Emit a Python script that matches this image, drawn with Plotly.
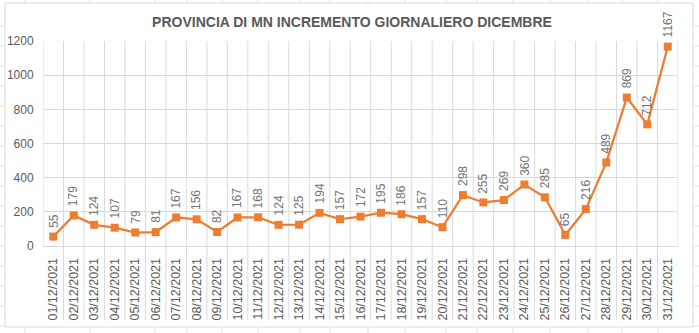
import plotly.graph_objects as go

# Daily new cases, province of Mantova, December 2021
dates = [f"{d:02d}/12/2021" for d in range(1, 32)]
values = [55, 179, 124, 107, 79, 81, 167, 156, 82, 167, 168, 124, 125, 194, 157,
          172, 195, 186, 157, 110, 298, 255, 269, 360, 285, 65, 216, 489, 869, 712, 1167]
y_ticks = [0, 200, 400, 600, 800, 1000, 1200]
title_text = "PROVINCIA DI MN INCREMENTO GIORNALIERO DICEMBRE"

W, H = 699, 333
ML, MR, MT, MB = 43, 21, 41, 87
PW, PH = W - ML - MR, H - MT - MB

ORANGE = "#ED7D31"
GRID = "#d9d9d9"
TEXT = "#595959"
SHEET = "#e3e3e3"
FONT = "Liberation Sans"


def px_x(px):
    return (px - ML) / PW


def px_y(py):
    return (H - MB - py) / PH


x_idx = list(range(len(dates)))

fig = go.Figure()
fig.add_trace(go.Scatter(
    x=x_idx, y=values, mode="lines+markers",
    line=dict(color=ORANGE, width=2.25),
    marker=dict(symbol="square", size=8, color=ORANGE),
    hoverinfo="skip", showlegend=False,
))

shapes = []
# category boundary lines; interior ones run down through the date labels
n = len(dates)
for i in range(n + 1):
    xb = i - 0.5
    y0 = 0 if i in (0, n) else px_y(320)
    shapes.append(dict(type="line", xref="x", yref="paper", x0=xb, x1=xb,
                       y0=y0, y1=1, line=dict(color=GRID, width=1), layer="below"))

# worksheet cell lines around the chart frame
for r in range(26, H, 20):
    for xa, xb in ((0, 5), (693, W)):
        shapes.append(dict(type="line", xref="paper", yref="paper",
                           x0=px_x(xa), x1=px_x(xb), y0=px_y(r), y1=px_y(r),
                           line=dict(color=SHEET, width=1), layer="below"))
for c in [25, 90, 155, 187, 222, 258, 300, 330, 368, 405, 446, 477, 513, 550, 588, 622, 658]:
    for ya, yb in ((0, 3), (327, H)):
        shapes.append(dict(type="line", xref="paper", yref="paper",
                           x0=px_x(c), x1=px_x(c), y0=px_y(ya), y1=px_y(yb),
                           line=dict(color=SHEET, width=1), layer="below"))

# chart frame
shapes.append(dict(type="rect", xref="paper", yref="paper",
                   x0=px_x(5), x1=px_x(693), y0=px_y(327), y1=px_y(3),
                   line=dict(color=GRID, width=1), fillcolor="rgba(0,0,0,0)", layer="below"))

# rotated value labels above each point
annotations = []
for i, v in zip(x_idx, values):
    annotations.append(dict(
        x=i, y=v, xref="x", yref="y", text=str(v), showarrow=False,
        textangle=-90, xanchor="center", yanchor="bottom", yshift=7,
        font=dict(family=FONT, size=12, color="#737373"),
    ))

fig.update_layout(
    width=W, height=H,
    margin=dict(l=ML, r=MR, t=MT, b=MB, autoexpand=False),
    paper_bgcolor="white", plot_bgcolor="white",
    title=dict(text=f"<b>{title_text}</b>", xref="container", yref="container",
               x=352 / W, y=1 - 22 / H, xanchor="center", yanchor="middle",
               font=dict(family=FONT, size=14, color=TEXT)),
    shapes=shapes,
    annotations=annotations,
    xaxis=dict(range=[-0.5, n - 0.5], tickmode="array", tickvals=x_idx, ticktext=dates,
               tickangle=-90, showgrid=False, zeroline=False, showline=True,
               linecolor=GRID, linewidth=1, ticks="outside", ticklen=6,
               tickcolor="rgba(0,0,0,0)", automargin=False,
               tickfont=dict(family=FONT, size=12.5, color=TEXT), fixedrange=True),
    yaxis=dict(range=[0, 1200], tickmode="array", tickvals=y_ticks,
               showgrid=True, gridcolor=GRID, gridwidth=1, zeroline=False,
               showline=False, ticks="outside", ticklen=6,
               tickcolor="rgba(0,0,0,0)", automargin=False,
               tickfont=dict(family=FONT, size=12, color=TEXT), fixedrange=True),
)

fig.write_html("out.html", config={"displayModeBar": False})
